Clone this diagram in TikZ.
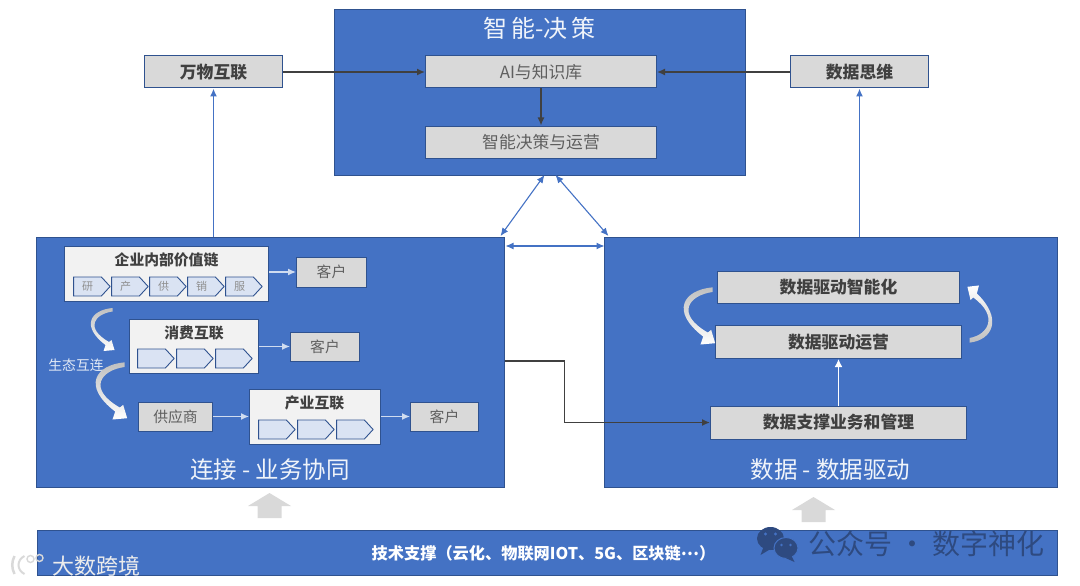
\documentclass[tikz,border=0pt]{standalone}
\usepackage{fontspec}
\usepackage{tikz}
\usetikzlibrary{arrows.meta,shapes.symbols}
\setmainfont{Noto Sans CJK SC}

\definecolor{panelblue}{HTML}{4472C4}
\definecolor{edgeblue}{HTML}{2F528F}
\definecolor{boxgray}{HTML}{D9D9D9}
\definecolor{boxwhite}{HTML}{F2F2F2}
\definecolor{chevblue}{HTML}{DAE3F3}
\definecolor{inkgray}{HTML}{404040}
\definecolor{softgray}{HTML}{5F5F5F}
\definecolor{markblue}{HTML}{2E4A80}

\newcommand{\fs}[1]{\fontsize{#1}{#1}\selectfont}

\tikzset{
  panel node/.style={draw=edgeblue,fill=panelblue,inner sep=0,line width=1pt},
  title node/.style={text=white!92!panelblue,font=\fs{23.5},inner sep=0},
  gray node/.style={draw=edgeblue,fill=boxgray,inner sep=0,line width=1pt,text=softgray,font=\fs{16.8}},
  bold node/.style={gray node,text=inkgray,font=\fs{16.8}\bfseries},
  chain node/.style={draw=edgeblue,fill=boxwhite,inner sep=0,line width=1pt},
  head node/.style={text=inkgray,font=\fs{14.8}\bfseries,inner sep=0},
  chev node/.style={shape=signal,signal to=east,signal pointer angle=95,draw=edgeblue,fill=chevblue,
    inner sep=0,minimum width=36.5pt,minimum height=19pt,line width=0.9pt,text=softgray!70,font=\fs{11}},
  blue line/.style={draw=panelblue,line width=1.6pt,-{Latex[length=8pt,width=7pt]}},
  both line/.style={draw=panelblue,line width=1.1pt,{Latex[length=8pt,width=7pt]}-{Latex[length=8pt,width=7pt]}},
  dark line/.style={draw=inkgray,line width=1.4pt,-{Latex[length=8pt,width=7pt]}},
  pale line/.style={draw=white!75!panelblue,line width=1.2pt,-{Latex[length=8pt,width=7pt]}},
  swoopdown/.style={top color=gray!50!white,bottom color=white},
  swoopup/.style={bottom color=gray!50!white,top color=white},
  pics/swoop/.style={code={
    \shade[#1] (0,-2) .. controls (-22,0) and (-32,16) .. (-7,35)
      -- (-9,41) -- (2,40) -- (-1,30) -- (-3.5,32)
      .. controls (-28,18) and (-18,4) .. (0,1.5) -- cycle;
  }},
  pics/block/.style={code={
    \fill[boxgray] (-12,25) -- (-12,13) -- (-21.5,13) -- (0,0) -- (21.5,13) -- (12,13) -- (12,25) -- cycle;
  }}
}

\begin{document}
\begin{tikzpicture}[x=1pt,y=-1pt,node distance=38pt]
  \useasboundingbox (0.5,0) rectangle (1080.5,586);

  % panels
  \node[panel node,minimum width=411pt,minimum height=165pt] (top) at (540.5,92.5) {};
  \node[panel node,minimum width=468pt,minimum height=250pt] (left) at (271,362) {};
  \node[panel node,minimum width=453pt,minimum height=250pt] (right) at (831.5,362) {};
  \node[panel node,minimum width=1020pt,minimum height=45pt] (base) at (548,552.5) {};

  \node[title node,font=\fs{24}] (toptitle) at (540,28) {智\,能-决\,策};
  \node[title node] (lefttitle) at (270.5,470) {连接 - 业务协同};
  \node[title node] (righttitle) at (831,470) {数据 - 数据驱动};
  \node[text=white,font=\fs{16.2}\bfseries,inner sep=0] (basetitle) at (544,553) {技术支撑（云化、物联网IOT、5G、区块链\raisebox{4pt}{…}）};

  % top row
  \node[bold node,minimum width=138pt,minimum height=32pt] (things) at (214,72) {万物互联};
  \node[gray node,minimum width=231pt,minimum height=32pt] (ai) at (541.5,72) {AI与知识库};
  \node[gray node,minimum width=231pt,minimum height=32pt] (decide) at (541.5,142) {智能决策与运营};
  \node[bold node,minimum width=138pt,minimum height=32pt] (think) at (860,72) {数据思维};

  % value chain
  \node[chain node,minimum width=204pt,minimum height=55pt] (chain) at (167,273.5) {};
  \node[head node] (chainhead) at (167,260) {企业内部价值链};
  \node[chev node] (c1) at (88,286.5) {研};
  \node[chev node] (c2) [right of=c1] {产};
  \node[chev node] (c3) [right of=c2] {供};
  \node[chev node] (c4) [right of=c3] {销};
  \node[chev node] (c5) [right of=c4] {服};
  \node[gray node,font=\fs{14.8},minimum width=70pt,minimum height=30pt] (cust1) at (332,272) {客户};

  % consumer
  \node[chain node,minimum width=129pt,minimum height=54pt] (cons) at (194.5,346) {};
  \node[head node] (conshead) at (194.5,333) {消费互联};
  \node[chev node] (d1) at (152,358.5) {};
  \node[chev node] (d2) [right of=d1,node distance=39pt] {};
  \node[chev node] (d3) [right of=d2,node distance=39pt] {};
  \node[gray node,font=\fs{14.8},minimum width=69pt,minimum height=29pt] (cust2) at (325.5,346.5) {客户};

  % industry
  \node[gray node,font=\fs{14.8},minimum width=74pt,minimum height=29pt] (supply) at (176,416.5) {供应商};
  \node[chain node,minimum width=131pt,minimum height=55pt] (ind) at (315.5,416.5) {};
  \node[head node] (indhead) at (315,403) {产业互联};
  \node[chev node] (e1) at (273,429.5) {};
  \node[chev node] (e2) [right of=e1,node distance=39pt] {};
  \node[chev node] (e3) [right of=e2,node distance=39pt] {};
  \node[gray node,font=\fs{14.8},minimum width=68pt,minimum height=29pt] (cust3) at (445,416.5) {客户};
  \node[text=white!85!panelblue,font=\fs{13.8},inner sep=0] (eco) at (76.5,365) {生态互连};

  % data side
  \node[bold node,minimum width=242pt,minimum height=32pt] (smart) at (839,287) {数据驱动智能化};
  \node[bold node,minimum width=246pt,minimum height=33pt] (ops) at (839,342) {数据驱动运营};
  \node[bold node,minimum width=256pt,minimum height=33pt] (support) at (839,422.5) {数据支撑业务和管理};

  \coordinate (elbow) at (565,361);
  \coordinate (lefttop) at (501,236);
  \coordinate (topleft) at (545,175);
  \coordinate (righttop) at (609,236);
  \coordinate (topright) at (556,175);
  \coordinate (gapleft) at (506,246);
  \coordinate (gapright) at (605,246);

  \path[every edge/.style={draw,dark line}]
    (things) edge (ai)
    (think) edge (ai)
    (ai) edge (decide);
  \draw[blue line] (left.north -| things.south) -- (things.south);
  \draw[blue line] (right.north -| think.south) -- (think.south);
  \draw[both line] (lefttop) -- (topleft);
  \draw[both line] (righttop) -- (topright);
  \draw[both line] (gapleft) -- (gapright);
  \draw[dark line] (left.east |- elbow) -- (elbow) |- (support.west);

  \path[every edge/.style={draw,pale line}]
    (chain.east |- cust1.west) edge (cust1.west)
    (cons.east |- cust2.west) edge (cust2.west)
    (supply) edge (ind.west |- supply)
    (ind.east |- cust3.west) edge (cust3.west);
  \draw[draw=white,line width=1.8pt,-{Latex[length=8pt,width=8pt]}] (support.north) -- (ops.south);

  \pic at (113,310) {swoop=swoopdown};
  \pic[scale=1.33] at (125,365) {swoop=swoopdown};
  \pic[scale=1.33] at (713,290) {swoop=swoopdown};
  \pic[xscale=-1.05,yscale=-1.33] at (970,340) {swoop=swoopup};

  \pic at (270,493) {block};
  \pic at (814,497) {block};

  % marks
  \fill[markblue] (771,538.5) ellipse (13.5 and 11.5);
  \fill[markblue] (764,547) -- (761,555) -- (771,549) -- cycle;
  \filldraw[markblue,draw=panelblue,line width=1pt] (786.5,548) ellipse (12 and 10.5);
  \fill[markblue] (792,556) -- (795,562) -- (786,558) -- cycle;
  \fill[panelblue] (766,534) circle (1.7) (776,534) circle (1.7) (782,545) circle (1.4) (791,545) circle (1.4);
  \node[text=markblue,font=\fs{28},inner sep=0] (wechat) at (927,544) {公众号 · 数字神化};
  \draw[gray!30,line width=2.5pt] (15,556) .. controls (12,562) and (12,568) .. (15,574);
  \draw[gray!30,line width=2pt] (25,556) .. controls (17,560) and (17,570) .. (25,574);
  \draw[gray!30,line width=1.4pt] (31,559) circle (3.5) (40,558) circle (3.5);
  \node[text=white!85!gray,font=\fs{22},inner sep=0] (stamp) at (96.5,566) {大数跨境};
\end{tikzpicture}
\end{document}
